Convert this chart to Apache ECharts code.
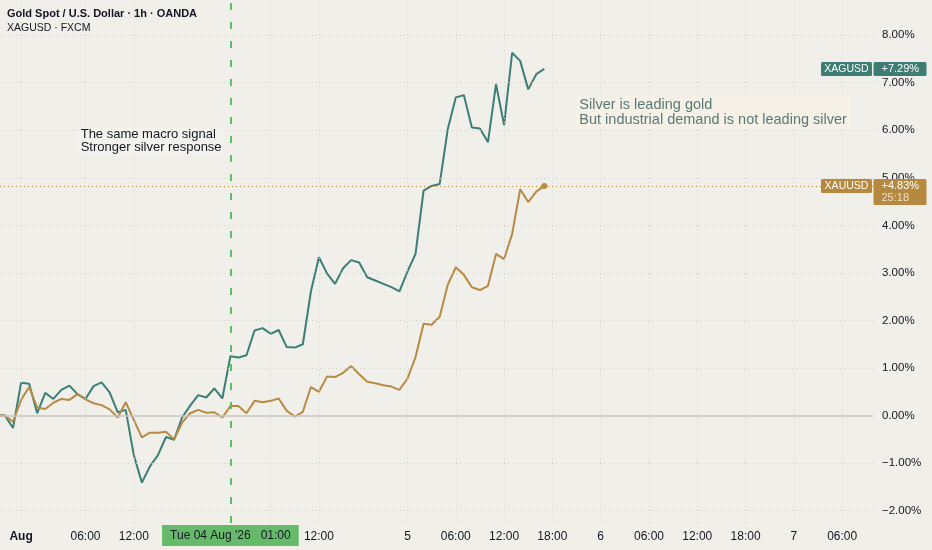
<!DOCTYPE html>
<html><head><meta charset="utf-8">
<script src="https://cdn.jsdelivr.net/npm/echarts@6/dist/echarts.min.js"></script>
<style>html,body{margin:0;padding:0;background:#f1efea;}#c{width:932px;height:550px;}</style>
</head><body><div id="c"></div>
<script>
// ---- data ----
const tickIndex = [3, 11, 17, 34, 40, 51, 57, 63, 69, 75, 81, 87, 93, 99, 105];
const tickText  = ['Aug', '06:00', '12:00', '06:00', '12:00', '5', '06:00', '12:00', '18:00', '6', '06:00', '12:00', '18:00', '7', '06:00'];
const silver = [0, 0.00, -0.26, 0.69, 0.67, 0.05, 0.48, 0.35, 0.54, 0.63, 0.45, 0.35, 0.62, 0.70, 0.49, 0.07, 0.12,
  -0.83, -1.41, -1.07, -0.83, -0.45, -0.51, -0.04, 0.21, 0.43, 0.38, 0.57, 0.36, 1.25, 1.22, 1.27, 1.79, 1.84, 1.72,
  1.80, 1.44, 1.43, 1.50, 2.61, 3.33, 2.99, 2.77, 3.10, 3.27, 3.22, 2.91, 2.84, 2.77, 2.70, 2.61, 3.03, 3.40, 4.73,
  4.83, 4.87, 6.02, 6.69, 6.74, 6.06, 6.04, 5.75, 6.97, 6.11, 7.63, 7.46, 6.86, 7.18, 7.29];
const gold = [0, 0.00, -0.13, 0.33, 0.60, 0.17, 0.14, 0.27, 0.35, 0.33, 0.45, 0.34, 0.26, 0.22, 0.13, -0.04, 0.28,
  -0.09, -0.46, -0.36, -0.36, -0.34, -0.50, -0.15, 0.05, 0.12, 0.06, 0.07, -0.04, 0.20, 0.20, 0.05, 0.31, 0.28, 0.31,
  0.36, 0.10, -0.02, 0.08, 0.60, 0.50, 0.82, 0.81, 0.90, 1.04, 0.87, 0.71, 0.68, 0.64, 0.61, 0.54, 0.78, 1.23, 1.93,
  1.91, 2.08, 2.75, 3.12, 2.96, 2.70, 2.64, 2.73, 3.40, 3.29, 3.82, 4.76, 4.49, 4.71, 4.83];
const yTicks = [-2, -1, 0, 1, 2, 3, 4, 5, 6, 7, 8];
const xRange = [0.379, 108.83];      // visible bar-index window
const yRange = [-2.259, 8.740];      // visible percent window
const crosshairIndex = 29;
const crosshairText = "Tue 04 Aug '26   01:00";
const silverName = 'XAGUSD', goldName = 'XAUUSD';
const goldCountdown = '25:18';
const titleText = 'Gold Spot / U.S. Dollar · 1h · OANDA';
const subtitleText = 'XAGUSD · FXCM';
const note1 = 'The same macro signal\nStronger silver response';
const note2 = 'Silver is leading gold\nBut industrial demand is not leading silver';

// ---- styles ----
const FONT = '"Liberation Sans", Arial, Helvetica, sans-serif';
const BG = '#f1efea', TEAL = '#3b7f77', GOLD = '#b88a44', GRID = '#d3d0ca', TXT = '#131722';
const DOT = {color: GRID, width: 1, type: [1, 3]};

const yFmt = v => (v < 0 ? '\u2212' : '') + Math.abs(v).toFixed(2) + '%';
const fmtPct = v => (v < 0 ? '\u2212' : (v > 0 ? '+' : '')) + Math.abs(v).toFixed(2) + '%';
const toPairs = arr => arr.map((v, i) => [i, v]);

const axisLines = [];
yTicks.forEach(v => axisLines.push({
  yAxis: v,
  lineStyle: v === 0 ? {color: '#c8c5c0', width: 1.5, type: 'solid'} : DOT,
  label: {show: true, position: 'end', distance: 9, formatter: yFmt(v), color: TXT, fontSize: 11.5, fontFamily: FONT}
}));
tickIndex.forEach((c, i) => axisLines.push({
  xAxis: c,
  lineStyle: DOT,
  label: {show: true, position: 'start', distance: 8, color: TXT, fontSize: 12, fontFamily: FONT,
    formatter: tickText[i] === 'Aug' ? '{b|Aug}' : tickText[i],
    rich: {b: {fontWeight: 'bold', fontSize: 12, color: TXT, fontFamily: FONT}}}
}));
axisLines.push({yAxis: gold[gold.length - 1], lineStyle: {color: GOLD, width: 1, type: [1, 3]}, label: {show: false}});

const chart = echarts.init(document.getElementById('c'));
chart.setOption({
  backgroundColor: BG,
  animation: false,
  textStyle: {fontFamily: FONT},
  grid: {left: 0, right: 59, top: 0, bottom: 27},
  xAxis: {type: 'value', min: xRange[0], max: xRange[1], show: false},
  yAxis: {type: 'value', min: yRange[0], max: yRange[1], show: false},
  series: [
    {type: 'line', data: [], z: 1, silent: true,
     markLine: {silent: true, symbol: ['none', 'none'], data: axisLines}},
    {name: silverName, type: 'line', data: toPairs(silver), symbol: 'none',
     lineStyle: {color: TEAL, width: 2}, itemStyle: {color: TEAL}, z: 3},
    {name: goldName, type: 'line',
     data: toPairs(gold).map((p, i) => i === gold.length - 1 ? {value: p, symbol: 'circle', symbolSize: 6} : p),
     symbol: 'none', showSymbol: true, showAllSymbol: true,
     lineStyle: {color: GOLD, width: 2}, itemStyle: {color: GOLD}, z: 4},
    {type: 'line', data: [], z: 6, silent: true,
     markLine: {silent: true, symbol: ['none', 'none'],
       lineStyle: {color: '#5cbf60', width: 2, type: [7, 12]},
       label: {show: true, position: 'start', distance: 2, formatter: crosshairText,
         backgroundColor: '#66bb6a', color: TXT, fontSize: 12, lineHeight: 13, fontFamily: FONT,
         padding: [4, 8, 4, 8]},
       data: [{xAxis: crosshairIndex}]}}
  ]
});

// price tags positioned through the library's scales
const xR = chart.convertToPixel({xAxisIndex: 0}, xRange[1]);
const sLast = silver[silver.length - 1], gLast = gold[gold.length - 1];
const yS = chart.convertToPixel({yAxisIndex: 0}, sLast);
const yG = chart.convertToPixel({yAxisIndex: 0}, gLast);
function tag(y, name, val, color, extra) {
  const els = [];
  els.push({type: 'rect', z: 100, shape: {x: xR - 52, y: y - 7, width: 51, height: 14, r: 1.5}, style: {fill: color}});
  els.push({type: 'text', z: 101, style: {text: name, x: xR - 26.5, y: y, fill: '#ffffff', font: '10.5px ' + FONT,
    textAlign: 'center', align: 'center', textVerticalAlign: 'middle', verticalAlign: 'middle'}});
  els.push({type: 'rect', z: 100, shape: {x: xR + 0.5, y: y - 7, width: 53, height: extra ? 26 : 14, r: 1.5}, style: {fill: color}});
  els.push({type: 'text', z: 101, style: {text: val, x: xR + 8.5, y: y, fill: '#ffffff', font: '11px ' + FONT,
    textAlign: 'left', align: 'left', textVerticalAlign: 'middle', verticalAlign: 'middle'}});
  if (extra) els.push({type: 'text', z: 101, style: {text: extra, x: xR + 8.5, y: y + 12.5, fill: 'rgba(255,255,255,0.72)', font: '11px ' + FONT,
    textAlign: 'left', align: 'left', textVerticalAlign: 'middle', verticalAlign: 'middle'}});
  return els;
}
chart.setOption({
  graphic: [
    {type: 'text', z: 50, style: {text: titleText, x: 7, y: 14, fill: TXT, font: 'bold 11px ' + FONT,
      textVerticalAlign: 'middle', verticalAlign: 'middle'}},
    {type: 'text', z: 50, style: {text: subtitleText, x: 7, y: 28, fill: TXT, font: '10.5px ' + FONT,
      textVerticalAlign: 'middle', verticalAlign: 'middle'}},
    {type: 'text', z: 50, x: 78, y: 127.5, style: {text: note1, fill: TXT, font: '13px ' + FONT, lineHeight: 13,
      backgroundColor: '#f4f2ed', padding: [0.5, 2, 0.5, 2.7]}},
    {type: 'text', z: 50, x: 576.7, y: 96.7, style: {text: note2, fill: '#5a7a78', font: '14.5px ' + FONT, lineHeight: 14.3,
      backgroundColor: '#f5f1e6', padding: [1.6, 4, 1.4, 2.6]}},
    ...tag(yS, silverName, fmtPct(sLast), '#3d7d74'),
    ...tag(yG, goldName, fmtPct(gLast), '#b5893f', goldCountdown)
  ]
});
</script></body></html>
